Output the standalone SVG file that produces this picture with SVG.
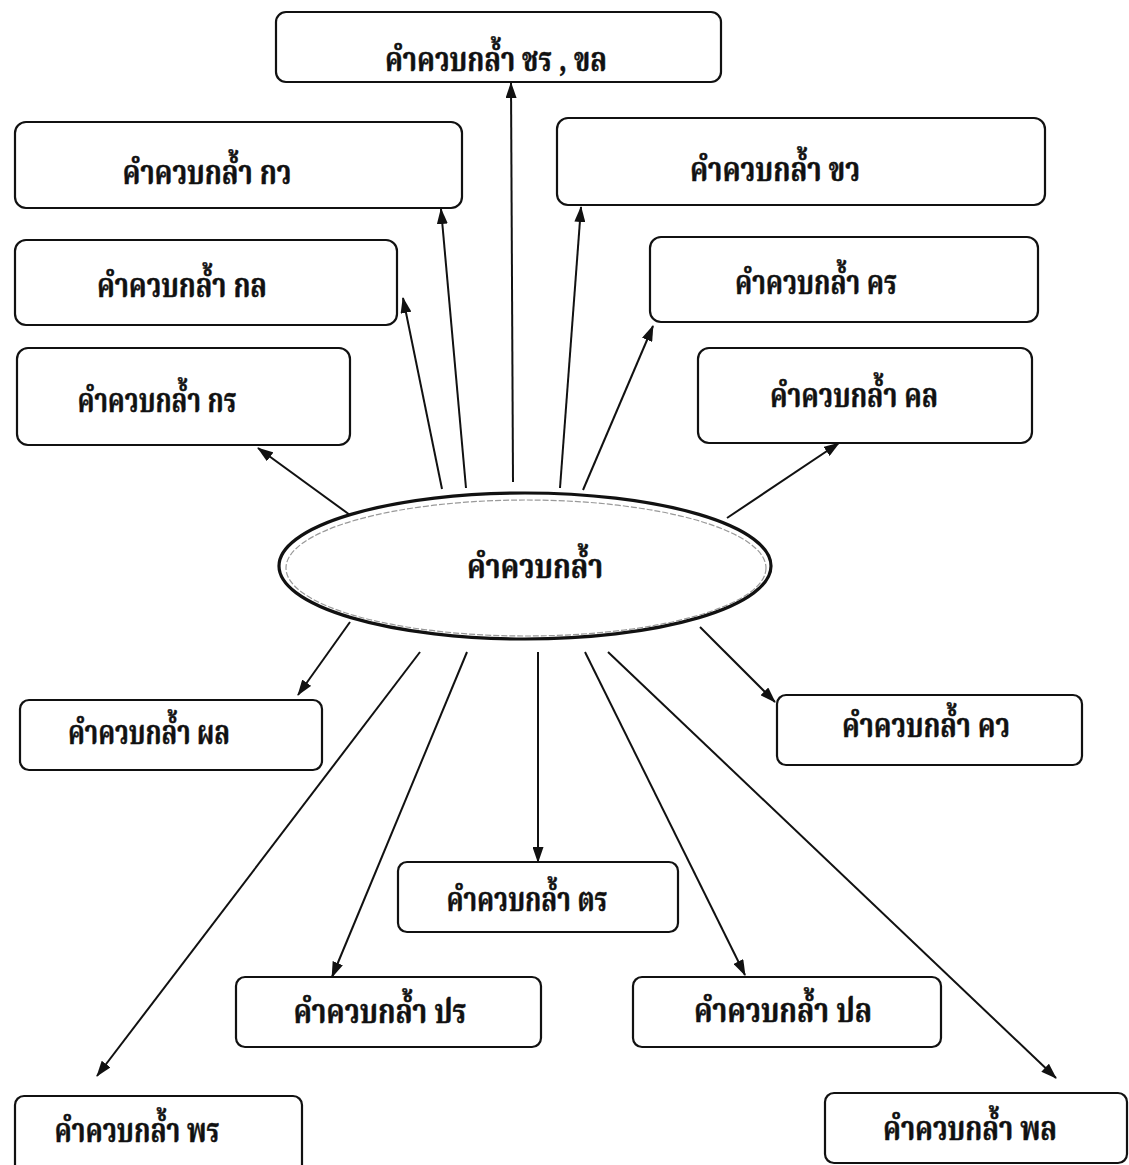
<svg xmlns="http://www.w3.org/2000/svg" width="1129" height="1165" viewBox="0 0 1129 1165">
<defs>
<style>
.box{fill:#fff;stroke:#111;stroke-width:2.2}
.t{font-family:"Noto Serif Thai","Noto Sans Thai Looped","Norasi","Garuda","Loma","Noto Sans Thai","DejaVu Sans",sans-serif;font-weight:bold;font-size:33px;fill:#111;stroke:#111;stroke-width:0.5;text-anchor:middle}
.c{stroke:#111;stroke-width:2;fill:none;marker-end:url(#ah)}
</style>
<marker id="ah" viewBox="0 0 16 11" refX="15" refY="5.5" markerWidth="16" markerHeight="11" markerUnits="userSpaceOnUse" orient="auto">
<path d="M0,0 L16,5.5 L0,11 Z" fill="#111"/>
</marker>
</defs>
<rect width="1129" height="1165" fill="#fff"/>
<g id="connectors">
<line class="c" x1="513" y1="482" x2="511" y2="83"/>
<line class="c" x1="466" y1="488" x2="441" y2="209"/>
<line class="c" x1="442" y1="489" x2="403" y2="298"/>
<line class="c" x1="350" y1="515" x2="258" y2="448"/>
<line class="c" x1="560" y1="488" x2="581" y2="207"/>
<line class="c" x1="583" y1="490" x2="653" y2="326"/>
<line class="c" x1="727" y1="518" x2="839" y2="443"/>
<line class="c" x1="350" y1="622" x2="298" y2="695"/>
<line class="c" x1="700" y1="627" x2="775" y2="702"/>
<line class="c" x1="538" y1="652" x2="538" y2="862"/>
<line class="c" x1="467" y1="652" x2="332" y2="977"/>
<line class="c" x1="585" y1="652" x2="745" y2="975"/>
<line class="c" x1="420" y1="652" x2="97" y2="1076"/>
<line class="c" x1="608" y1="652" x2="1056" y2="1078"/>
</g>
<g id="center">
<ellipse cx="525" cy="566" rx="246" ry="73" fill="#fff" stroke="#111" stroke-width="3.2"/>
<ellipse cx="526" cy="568" rx="240" ry="68" fill="none" stroke="#999" stroke-width="1.2" stroke-dasharray="6 2"/>
<text class="t" x="535" y="578" textLength="136" lengthAdjust="spacingAndGlyphs">คำควบกล้ำ</text>
</g>
<g id="n-chr-khl"><rect class="box" x="276" y="12" width="445" height="70" rx="10"/><text class="t" x="496" y="71" textLength="222" lengthAdjust="spacingAndGlyphs">คำควบกล้ำ ชร , ขล</text></g>
<g id="n-kw"><rect class="box" x="15" y="122" width="447" height="86" rx="11"/><text class="t" x="207" y="184" textLength="169" lengthAdjust="spacingAndGlyphs">คำควบกล้ำ  กว</text></g>
<g id="n-kl"><rect class="box" x="15" y="240" width="382" height="85" rx="11"/><text class="t" x="182" y="297" textLength="170" lengthAdjust="spacingAndGlyphs">คำควบกล้ำ  กล</text></g>
<g id="n-kr"><rect class="box" x="17" y="348" width="333" height="97" rx="11"/><text class="t" x="157" y="412" textLength="159" lengthAdjust="spacingAndGlyphs">คำควบกล้ำ กร</text></g>
<g id="n-khw"><rect class="box" x="557" y="118" width="488" height="87" rx="11"/><text class="t" x="775" y="181" textLength="170" lengthAdjust="spacingAndGlyphs">คำควบกล้ำ  ขว</text></g>
<g id="n-khr"><rect class="box" x="650" y="237" width="388" height="85" rx="11"/><text class="t" x="816" y="294" textLength="162" lengthAdjust="spacingAndGlyphs">คำควบกล้ำ คร</text></g>
<g id="n-khl"><rect class="box" x="698" y="348" width="334" height="95" rx="11"/><text class="t" x="854" y="407" textLength="168" lengthAdjust="spacingAndGlyphs">คำควบกล้ำ  คล</text></g>
<g id="n-phl"><rect class="box" x="20" y="700" width="302" height="70" rx="9"/><text class="t" x="149" y="744" textLength="162" lengthAdjust="spacingAndGlyphs">คำควบกล้ำ  ผล</text></g>
<g id="n-khw2"><rect class="box" x="777" y="695" width="305" height="70" rx="9"/><text class="t" x="926" y="737" textLength="168" lengthAdjust="spacingAndGlyphs">คำควบกล้ำ  คว</text></g>
<g id="n-tr"><rect class="box" x="398" y="862" width="280" height="70" rx="9"/><text class="t" x="527" y="911" textLength="161" lengthAdjust="spacingAndGlyphs">คำควบกล้ำ ตร</text></g>
<g id="n-pr"><rect class="box" x="236" y="977" width="305" height="70" rx="9"/><text class="t" x="380" y="1023" textLength="173" lengthAdjust="spacingAndGlyphs">คำควบกล้ำ  ปร</text></g>
<g id="n-pl"><rect class="box" x="633" y="977" width="308" height="70" rx="9"/><text class="t" x="783" y="1022" textLength="178" lengthAdjust="spacingAndGlyphs">คำควบกล้ำ  ปล</text></g>
<g id="n-phr"><rect class="box" x="15" y="1096" width="287" height="80" rx="9"/><text class="t" x="137" y="1142" textLength="165" lengthAdjust="spacingAndGlyphs">คำควบกล้ำ  พร</text></g>
<g id="n-phl2"><rect class="box" x="825" y="1093" width="302" height="70" rx="9"/><text class="t" x="970" y="1140" textLength="174" lengthAdjust="spacingAndGlyphs">คำควบกล้ำ  พล</text></g>
</svg>
